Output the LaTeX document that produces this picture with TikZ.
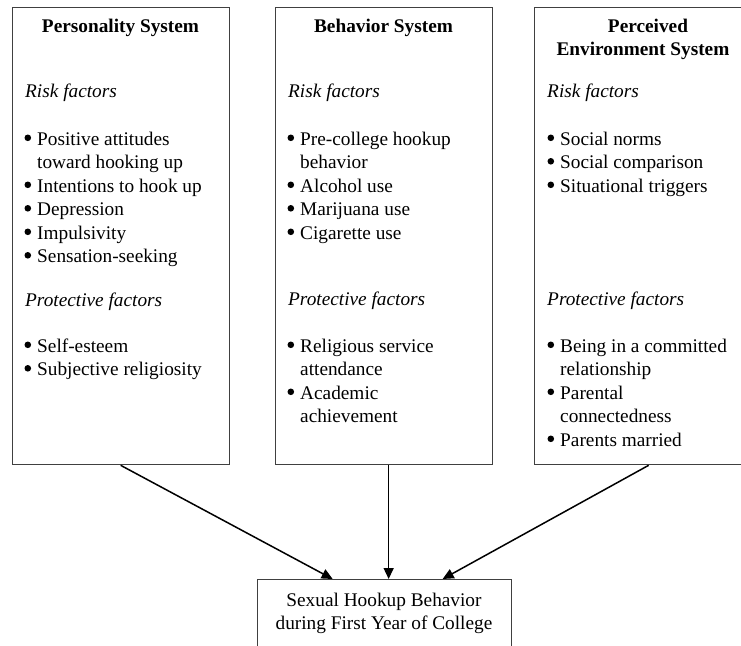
\documentclass[tikz,border=0pt]{standalone}
\usepackage{fontspec}
\setmainfont{Liberation Serif}
\usetikzlibrary{arrows.meta}
\definecolor{boxgray}{HTML}{404040}
\tikzset{
  sysbox/.style={draw=boxgray, line width=1.3pt, inner sep=0pt, minimum width=217pt, minimum height=457pt, anchor=north west},
  outbox/.style={draw=boxgray, line width=1.3pt, inner sep=0pt, minimum width=254pt, minimum height=100pt, anchor=north west},
  txt/.style={anchor=base west, inner sep=0pt, font=\fontsize{19.3}{23.5}\selectfont},
  ctxt/.style={anchor=base, inner sep=0pt, font=\fontsize{19.3}{23.5}\selectfont},
  ttl/.style={anchor=base, inner sep=0pt, font=\fontsize{19.3}{23.5}\selectfont\bfseries},
  dot/.style={circle, fill=black, inner sep=0pt, minimum size=6.6pt},
  conn/.style={line width=1.5pt, -{Triangle[length=11pt,width=10pt]}}
}
% name, bullet x, baseline y, text
\newcommand\bitem[4]{%
  \node[dot] (#1b) at (#2+3.8,#3-7.2) {};
  \node[txt] (#1) at (#2+13,#3) {#4};}
\begin{document}
\begin{tikzpicture}[x=1pt,y=-1pt]
\useasboundingbox (0,0) rectangle (741,645);
\clip (0,0) rectangle (741,645);
\fill[white] (0,0) rectangle (741,645);

% boxes
\node[sysbox] (b1) at (12,7) {};
\node[sysbox] (b2) at (275,7) {};
\node[sysbox] (b3) at (534,7) {};
\node[outbox] (out) at (257,579) {};

% Personality System
\node[ttl] (t1) at (120.5,32) {Personality System};
\node[txt] (r1) at (25,97) {\itshape Risk factors};
\bitem{a1}{24}{145}{Positive attitudes}
\node[txt] (a1c) at (37,168.5) {toward hooking up};
\bitem{a2}{24}{192}{Intentions to hook up}
\bitem{a3}{24}{215.5}{Depression}
\bitem{a4}{24}{239}{Impulsivity}
\bitem{a5}{24}{262.5}{Sensation-seeking}
\node[txt] (pr1) at (25,306) {\itshape Protective factors};
\bitem{a6}{24}{352}{Self-esteem}
\bitem{a7}{24}{375.5}{Subjective religiosity}

% Behavior System
\node[ttl] (t2) at (383.5,32) {Behavior System};
\node[txt] (r2) at (288,97) {\itshape Risk factors};
\bitem{c1}{287}{145}{Pre-college hookup}
\node[txt] (c1c) at (300,168.5) {behavior};
\bitem{c2}{287}{192}{Alcohol use}
\bitem{c3}{287}{215.5}{Marijuana use}
\bitem{c4}{287}{239}{Cigarette use}
\node[txt] (pr2) at (288,305) {\itshape Protective factors};
\bitem{c5}{287}{352}{Religious service}
\node[txt] (c5c) at (300,375.5) {attendance};
\bitem{c6}{287}{399}{Academic}
\node[txt] (c6c) at (300,422.5) {achievement};

% Perceived Environment System
\node[ttl] (t3a) at (648,32) {Perceived};
\node[ttl] (t3b) at (643,55) {Environment System};
\node[txt] (r3) at (547,97) {\itshape Risk factors};
\bitem{e1}{547}{145}{Social norms}
\bitem{e2}{547}{168.5}{Social comparison}
\bitem{e3}{547}{192}{Situational triggers}
\node[txt] (pr3) at (547,305) {\itshape Protective factors};
\bitem{e4}{547}{352}{Being in a committed}
\node[txt] (e4c) at (560,375.5) {relationship};
\bitem{e5}{547}{399}{Parental}
\node[txt] (e5c) at (560,422.5) {connectedness};
\bitem{e6}{547}{446}{Parents married}

% outcome
\node[ctxt] (o1) at (384,606) {Sexual Hookup Behavior};
\node[ctxt] (o2) at (384,629.5) {during First Year of College};

% connectors
\draw[conn] ([xshift=-0.5pt]b1.south) -- ([xshift=-52pt]out.north);
\draw[conn] ([xshift=4.5pt]b2.south) -- ([xshift=4pt]out.north);
\draw[conn] ([xshift=5.5pt]b3.south) -- ([xshift=58pt]out.north);
\end{tikzpicture}
\end{document}
